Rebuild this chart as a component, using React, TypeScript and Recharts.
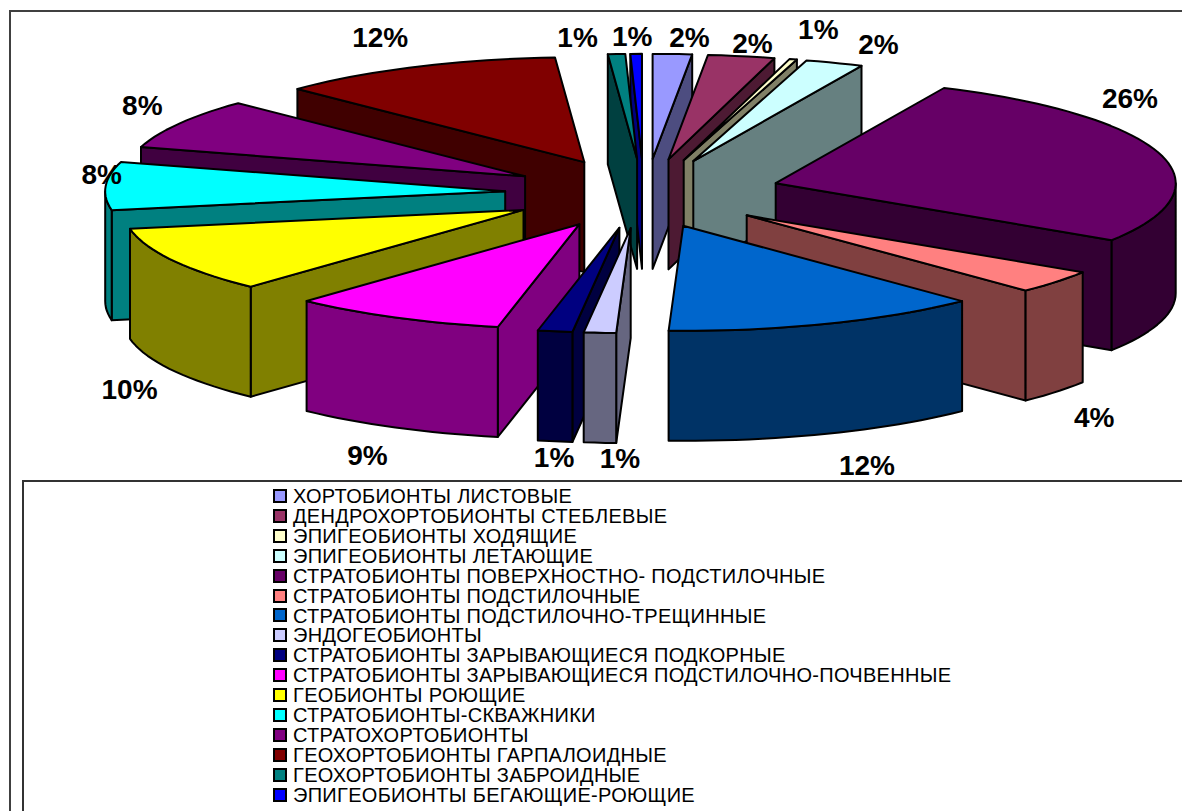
import React from 'react';
import { PieChart, Pie, Cell, Legend } from 'recharts';

const categories = [
  'ХОРТОБИОНТЫ ЛИСТОВЫЕ',
  'ДЕНДРОХОРТОБИОНТЫ СТЕБЛЕВЫЕ',
  'ЭПИГЕОБИОНТЫ ХОДЯЩИЕ',
  'ЭПИГЕОБИОНТЫ ЛЕТАЮЩИЕ',
  'СТРАТОБИОНТЫ ПОВЕРХНОСТНО- ПОДСТИЛОЧНЫЕ',
  'СТРАТОБИОНТЫ ПОДСТИЛОЧНЫЕ',
  'СТРАТОБИОНТЫ ПОДСТИЛОЧНО-ТРЕЩИННЫЕ',
  'ЭНДОГЕОБИОНТЫ',
  'СТРАТОБИОНТЫ ЗАРЫВАЮЩИЕСЯ ПОДКОРНЫЕ',
  'СТРАТОБИОНТЫ ЗАРЫВАЮЩИЕСЯ ПОДСТИЛОЧНО-ПОЧВЕННЫЕ',
  'ГЕОБИОНТЫ РОЮЩИЕ',
  'СТРАТОБИОНТЫ-СКВАЖНИКИ',
  'СТРАТОХОРТОБИОНТЫ',
  'ГЕОХОРТОБИОНТЫ ГАРПАЛОИДНЫЕ',
  'ГЕОХОРТОБИОНТЫ ЗАБРОИДНЫЕ',
  'ЭПИГЕОБИОНТЫ БЕГАЮЩИЕ-РОЮЩИЕ',
];

// slice sizes, the printed labels are rounded
const values = [1.58, 2.7, 0.3, 2.35, 27.3, 3.6, 12.9, 1.3, 1.4, 8.7, 10.2, 7.4, 7.8, 11.6, 0.7, 0.47];
const percentLabels = ['2%', '2%', '1%', '2%', '26%', '4%', '12%', '1%', '1%', '9%', '10%', '8%', '8%', '12%', '1%', '1%'];

const colors = [
  '#9999FF', '#993366', '#FFFFCC', '#CCFFFF', '#660066', '#FF8080', '#0066CC', '#CCCCFF',
  '#000080', '#FF00FF', '#FFFF00', '#00FFFF', '#800080', '#800000', '#008080', '#0000FF',
];

// label offsets from the outer edge of each slice
const labelNudge = [
  [22, -15], [14, -12], [31, -29], [49, -17], [-24, -56], [40, 136], [34, 142], [20, 126],
  [-1, 126], [-28, 138], [-43, 129], [-6, -11], [-37, -17], [-35, -28], [-36, -16], [-1, -16],
];

// small per-slice corrections of the explode offset
const sliceShift = [
  [5, 1], [3, 1], [6, 1], [5, 1], [6, 0], [2, 0], [-6, 0], [0, 0],
  [0, 0], [0, 0], [0, 0], [-2, 0], [0, 1], [0, 1], [3, 1], [3, 1],
];

const CX = 641;
const CY = 193;
const RADIUS = 400;
const SQUASH = 0.2625;
const EXPLODE = 134;
const DEPTH = 110;

const rad = (d: number) => (d * Math.PI) / 180;

const darken = (hex: string) => {
  const n = parseInt(hex.slice(1), 16);
  const half = (v: number) => Math.round(v / 2).toString(16).padStart(2, '0');
  return `#${half((n >> 16) & 255)}${half((n >> 8) & 255)}${half(n & 255)}`;
};

// start/end of a sector as clockwise degrees from 12 o'clock
const clockAngles = (startAngle: number, endAngle: number) => {
  let lo = 90 - Math.max(startAngle, endAngle);
  let hi = 90 - Math.min(startAngle, endAngle);
  if (lo < 0) {
    lo += 360;
    hi += 360;
  }
  return [lo, hi];
};

const pts = (list: number[][]) => list.map((p) => `${p[0].toFixed(1)},${p[1].toFixed(1)}`).join(' ');

// one exploded 3d slice; right side goes in data order, left side in reverse, so the front ones paint last
const sliceShape = (side: 'left' | 'right') => (props: any) => {
  const { cx, cy, outerRadius, startAngle, endAngle, fill, name } = props;
  const [a, b] = clockAngles(startAngle, endAngle);
  const mid = (a + b) / 2;
  if ((mid < 180) !== (side === 'right')) return <g />;

  const shift = sliceShift[categories.indexOf(name)] || [0, 0];
  const ax = cx + EXPLODE * Math.sin(rad(mid)) + shift[0];
  const ay = cy - EXPLODE * SQUASH * Math.cos(rad(mid)) + shift[1];
  const at = (t: number) => [ax + outerRadius * Math.sin(rad(t)), ay - outerRadius * SQUASH * Math.cos(rad(t))];
  const arc = (from: number, to: number) => {
    const out: number[][] = [];
    const steps = Math.max(1, Math.ceil((to - from) / 2));
    for (let i = 0; i <= steps; i++) out.push(at(from + ((to - from) * i) / steps));
    return out;
  };
  const down = (p: number[]) => [p[0], p[1] + DEPTH];
  const wall = darken(fill);
  const style = { stroke: '#000', strokeWidth: 2, strokeLinejoin: 'round' as const };

  const walls: React.ReactNode[] = [];
  if (a > 180) {
    const p = at(a);
    walls.push(<polygon key="s" points={pts([[ax, ay], p, down(p), [ax, ay + DEPTH]])} fill={wall} {...style} />);
  }
  if (b < 180) {
    const p = at(b);
    walls.push(<polygon key="e" points={pts([[ax, ay], p, down(p), [ax, ay + DEPTH]])} fill={wall} {...style} />);
  }
  const from = Math.max(a, 90);
  const to = Math.min(b, 270);
  if (to > from) {
    const edge = arc(from, to);
    walls.push(<polygon key="o" points={pts([...edge, ...edge.map(down).reverse()])} fill={wall} {...style} />);
  }
  return (
    <g>
      {walls}
      <polygon points={pts([[ax, ay], ...arc(a, b)])} fill={fill} {...style} />
    </g>
  );
};

const slices = categories.map((name, i) => ({ name, value: values[i], color: colors[i], label: percentLabels[i], nudge: labelNudge[i] }));
const reversed = [...slices].reverse();

const renderPercent = (props: any) => {
  const { cx, cy, midAngle, outerRadius, index } = props;
  const s = reversed[index];
  const t = rad(90 - midAngle);
  const x = cx + (outerRadius + EXPLODE) * Math.sin(t) + s.nudge[0];
  const y = cy - (outerRadius + EXPLODE) * SQUASH * Math.cos(t) + s.nudge[1];
  return (
    <text x={x} y={y} textAnchor="middle" dominantBaseline="central" fontFamily="Liberation Sans" fontWeight="bold" fontSize={28} fill="#000">
      {s.label}
    </text>
  );
};

const LegendBox = () => (
  <div style={{ paddingTop: 4, paddingLeft: 249 }}>
    {slices.map((s) => (
      <div key={s.name} style={{ height: 19.93, display: 'flex', alignItems: 'center' }}>
        <span style={{ width: 10, height: 10, background: s.color, border: '2px solid #000', marginRight: 6, flex: 'none' }} />
        <span style={{ fontFamily: 'Liberation Sans', fontSize: 20, letterSpacing: 0.3, lineHeight: '20px', color: '#000', whiteSpace: 'nowrap' }}>{s.name}</span>
      </div>
    ))}
  </div>
);

export default function App() {
  return (
    <div style={{ position: 'absolute', left: 0, top: 0, width: 1182, height: 811, overflow: 'hidden', background: '#fff' }}>
      <div style={{ position: 'absolute', left: 9, top: 10, width: 1300, height: 900, borderLeft: '2px solid #404040', borderTop: '2px solid #404040' }} />
      <PieChart width={1182} height={811} margin={{ top: 0, right: 0, bottom: 0, left: 0 }}>
        <Pie
          data={slices}
          dataKey="value"
          nameKey="name"
          cx={CX}
          cy={CY}
          outerRadius={RADIUS}
          startAngle={90}
          endAngle={-270}
          stroke="none"
          legendType="none"
          shape={sliceShape('right')}
          isAnimationActive={false}
        >
          {slices.map((s) => (
            <Cell key={s.name} fill={s.color} />
          ))}
        </Pie>
        <Pie
          data={reversed}
          dataKey="value"
          nameKey="name"
          cx={CX}
          cy={CY}
          outerRadius={RADIUS}
          startAngle={90}
          endAngle={450}
          stroke="none"
          legendType="none"
          shape={sliceShape('left')}
          label={renderPercent}
          labelLine={false}
          isAnimationActive={false}
        >
          {reversed.map((s) => (
            <Cell key={s.name} fill={s.color} />
          ))}
        </Pie>
        <Legend
          content={<LegendBox />}
          wrapperStyle={{ position: 'absolute', left: 22, top: 480, width: 1300, height: 400, bottom: 'auto', border: '2px solid #333', boxSizing: 'border-box', background: '#fff' }}
        />
      </PieChart>
    </div>
  );
}
